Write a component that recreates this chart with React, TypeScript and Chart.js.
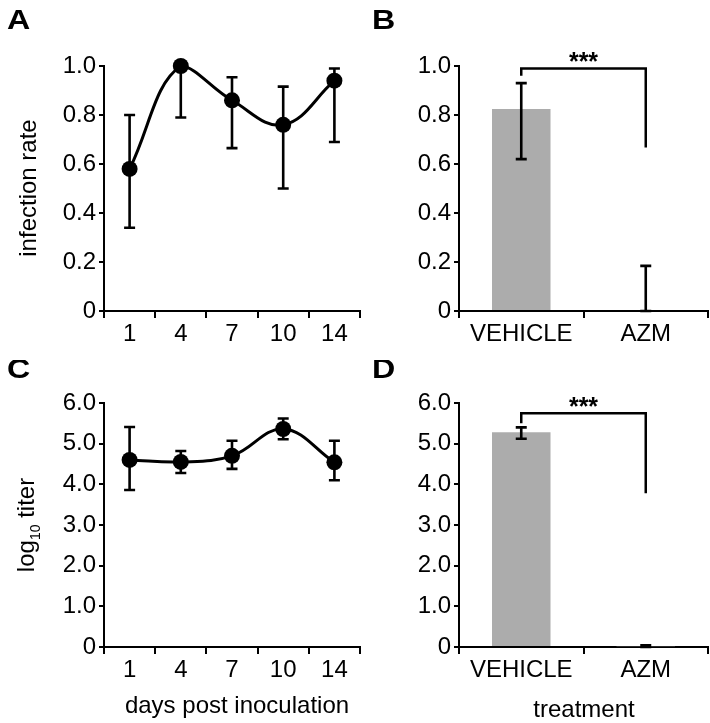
import React, { useEffect, useRef } from "react";
import { Chart, registerables } from "chart.js";

Chart.register(...registerables);

// ---------- data ----------
const days = ["1", "4", "7", "10", "14"];
const infectionRate = [0.58, 1.0, 0.86, 0.76, 0.94];
const infectionLow = [0.34, 0.79, 0.665, 0.5, 0.69];
const infectionHigh = [0.8, 1.0, 0.954, 0.916, 0.99];

const treatments = ["VEHICLE", "AZM"];
const treatRate = [0.825, 0];
const treatRateLow = [0.62, 0];
const treatRateHigh = [0.93, 0.184];
const rateBracket = [0.99, 0.96, 0.667]; // top, left leg end, right leg end

const titer = [4.6, 4.55, 4.7, 5.36, 4.54];
const titerLow = [3.86, 4.28, 4.38, 5.11, 4.1];
const titerHigh = [5.41, 4.82, 5.07, 5.62, 5.07];

const treatTiter = [5.28, 0.02];
const treatTiterLow = [5.12, 0];
const treatTiterHigh = [5.4, 0.04];
const titerBracket = [5.75, 5.5, 3.78];

const rateTickStep = 0.2;
const titerTickStep = 1;

const FONT = "'Liberation Sans', Arial, Helvetica, sans-serif";
Chart.defaults.font.family = FONT;
Chart.defaults.color = "#000";

type Annot = {
  letter: string;
  letterX: number;
  letterY: number;
  yTitle?: string;
  ySub?: [string, string, string];
  yTitleX?: number;
  yTitleY?: number;
  xTitle?: string;
  xTitleX?: number;
  xTitleY?: number;
  bracket?: number[];
};

function annotPlugin(a: Annot) {
  return {
    id: "annot",
    afterDraw(chart: any) {
      const ctx = chart.ctx;
      ctx.save();
      ctx.fillStyle = "#000";
      ctx.strokeStyle = "#000";
      // panel letter (slightly widened like the reference)
      ctx.save();
      ctx.translate(a.letterX, a.letterY);
      ctx.scale(1.15, 1);
      ctx.font = `bold 28px ${FONT}`;
      ctx.textAlign = "left";
      ctx.textBaseline = "alphabetic";
      ctx.fillText(a.letter, 0, 0);
      ctx.restore();
      // y title
      if (a.yTitle) {
        ctx.save();
        ctx.translate(a.yTitleX, a.yTitleY);
        ctx.rotate(-Math.PI / 2);
        ctx.font = `24px ${FONT}`;
        ctx.textAlign = "center";
        ctx.fillText(a.yTitle, 0, 0);
        ctx.restore();
      }
      if (a.ySub) {
        ctx.save();
        ctx.translate(a.yTitleX, a.yTitleY);
        ctx.rotate(-Math.PI / 2);
        ctx.textAlign = "left";
        ctx.font = `24px ${FONT}`;
        const w1 = ctx.measureText(a.ySub[0]).width;
        const w3 = ctx.measureText(a.ySub[2]).width;
        ctx.font = `14px ${FONT}`;
        const w2 = ctx.measureText(a.ySub[1]).width;
        let x = -(w1 + w2 + w3) / 2;
        ctx.font = `24px ${FONT}`;
        ctx.fillText(a.ySub[0], x, 0);
        x += w1;
        ctx.font = `14px ${FONT}`;
        ctx.fillText(a.ySub[1], x, 6);
        x += w2;
        ctx.font = `24px ${FONT}`;
        ctx.fillText(a.ySub[2], x, 0);
        ctx.restore();
      }
      if (a.xTitle) {
        ctx.font = `24px ${FONT}`;
        ctx.textAlign = "center";
        ctx.fillText(a.xTitle, a.xTitleX, a.xTitleY);
      }
      if (a.bracket) {
        const meta = chart.getDatasetMeta(0);
        const x1 = meta.data[0].x;
        const x2 = meta.data[1].x;
        const ys = chart.scales.y;
        const yt = ys.getPixelForValue(a.bracket[0]);
        const yl = ys.getPixelForValue(a.bracket[1]);
        const yr = ys.getPixelForValue(a.bracket[2]);
        ctx.lineWidth = 2.5;
        ctx.beginPath();
        ctx.moveTo(x1, yl);
        ctx.lineTo(x1, yt);
        ctx.lineTo(x2, yt);
        ctx.lineTo(x2, yr);
        ctx.stroke();
        ctx.font = `bold 25px ${FONT}`;
        ctx.textAlign = "center";
        ctx.fillText("***", (x1 + x2) / 2, yt + 2);
      }
      ctx.restore();
    },
  };
}

function errorPlugin(low: number[], high: number[]) {
  return {
    id: "errbars",
    afterDatasetsDraw(chart: any) {
      const ctx = chart.ctx;
      const meta = chart.getDatasetMeta(0);
      const ys = chart.scales.y;
      ctx.save();
      ctx.strokeStyle = "#000";
      ctx.lineWidth = 2.6;
      meta.data.forEach((el: any, i: number) => {
        const x = el.x;
        const y1 = ys.getPixelForValue(low[i]);
        const y2 = ys.getPixelForValue(high[i]);
        const cw = 5.5;
        ctx.beginPath();
        ctx.moveTo(x, y1);
        ctx.lineTo(x, y2);
        ctx.moveTo(x - cw, y1);
        ctx.lineTo(x + cw, y1);
        ctx.moveTo(x - cw, y2);
        ctx.lineTo(x + cw, y2);
        ctx.stroke();
      });
      ctx.restore();
    },
  };
}

function yScale(max: number, step: number, width: number) {
  return {
    min: 0,
    max,
    ticks: {
      stepSize: step,
      font: { size: 24 },
      color: "#000",
      padding: 3,
      callback: (v: any) => (Number(v) === 0 ? "0" : Number(v).toFixed(1)),
    },
    grid: { drawOnChartArea: false, color: "#000", lineWidth: 2, tickLength: 5 },
    border: { color: "#000", width: 2 },
    afterFit: (s: any) => {
      s.width = width;
    },
  };
}

function xScale(height: number) {
  return {
    type: "category",
    offset: true,
    ticks: { font: { size: 24 }, color: "#000", padding: 2, maxRotation: 0, autoSkip: false },
    grid: { offset: true, drawOnChartArea: false, color: "#000", lineWidth: 2, tickLength: 7 },
    border: { color: "#000", width: 2 },
    afterFit: (s: any) => {
      s.height = height;
    },
  };
}

function lineConfig(values: number[], low: number[], high: number[], max: number, step: number, top: number, xh: number, right: number, annot: Annot) {
  return {
    type: "line",
    data: {
      labels: days,
      datasets: [
        {
          data: values,
          borderColor: "#000",
          backgroundColor: "#000",
          borderWidth: 3,
          pointRadius: 8,
          pointBackgroundColor: "#000",
          pointBorderWidth: 0,
          tension: 0.4,
          clip: false,
        },
      ],
    },
    options: {
      responsive: false,
      animation: false,
      devicePixelRatio: 1,
      layout: { padding: { left: 0, top, right, bottom: 0 } },
      plugins: { legend: { display: false }, tooltip: { enabled: false } },
      scales: { x: xScale(xh), y: yScale(max, step, 104) },
    },
    plugins: [errorPlugin(low, high), annotPlugin(annot)],
  };
}

function barConfig(values: number[], low: number[], high: number[], max: number, step: number, top: number, xh: number, right: number, annot: Annot) {
  return {
    type: "bar",
    data: {
      labels: treatments,
      datasets: [
        {
          data: values,
          backgroundColor: "#acacac",
          borderWidth: 0,
          barPercentage: 0.47,
          categoryPercentage: 1,
        },
      ],
    },
    options: {
      responsive: false,
      animation: false,
      devicePixelRatio: 1,
      layout: { padding: { left: 0, top, right, bottom: 0 } },
      plugins: { legend: { display: false }, tooltip: { enabled: false } },
      scales: { x: xScale(xh), y: yScale(max, step, 104) },
    },
    plugins: [errorPlugin(low, high), annotPlugin(annot)],
  };
}

function Panel({ make, left, top, width, height }: any) {
  const ref = useRef<HTMLCanvasElement | null>(null);
  useEffect(() => {
    const chart = new Chart(ref.current as HTMLCanvasElement, make());
    return () => chart.destroy();
  }, []);
  return (
    <canvas
      ref={ref}
      width={width}
      height={height}
      style={{ position: "absolute", left, top, width, height }}
    />
  );
}

export default function App() {
  return (
    <div style={{ position: "absolute", left: 0, top: 0, width: 710, height: 723, background: "#fff" }}>
      <Panel
        left={0}
        top={0}
        width={368}
        height={360}
        make={() =>
          lineConfig(infectionRate, infectionLow, infectionHigh, 1, rateTickStep, 66, 49, 4, {
            letter: "A",
            letterX: 7,
            letterY: 29,
            yTitle: "infection rate",
            yTitleX: 36,
            yTitleY: 188,
          })
        }
      />
      <Panel
        left={355}
        top={0}
        width={355}
        height={360}
        make={() =>
          barConfig(treatRate, treatRateLow, treatRateHigh, 1, rateTickStep, 66, 49, 2, {
            letter: "B",
            letterX: 17,
            letterY: 29,
            bracket: rateBracket,
          })
        }
      />
      <Panel
        left={0}
        top={360}
        width={368}
        height={363}
        make={() =>
          lineConfig(titer, titerLow, titerHigh, 6, titerTickStep, 43, 76, 4, {
            letter: "C",
            letterX: 7,
            letterY: 18,
            ySub: ["log", "10", " titer"],
            yTitleX: 34,
            yTitleY: 165,
            xTitle: "days post inoculation",
            xTitleX: 237,
            xTitleY: 353,
          })
        }
      />
      <Panel
        left={355}
        top={360}
        width={355}
        height={363}
        make={() =>
          barConfig(treatTiter, treatTiterLow, treatTiterHigh, 6, titerTickStep, 43, 76, 2, {
            letter: "D",
            letterX: 17,
            letterY: 18,
            bracket: titerBracket,
            xTitle: "treatment",
            xTitleX: 229,
            xTitleY: 357,
          })
        }
      />
    </div>
  );
}
